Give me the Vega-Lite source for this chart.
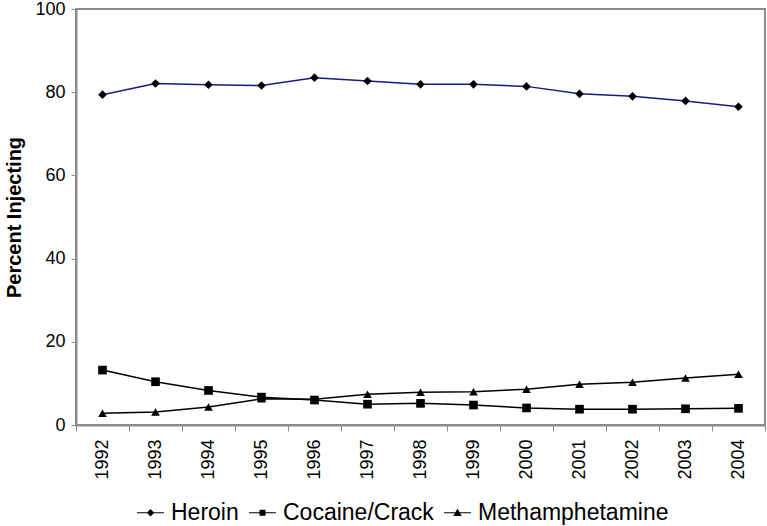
{
  "$schema": "https://vega.github.io/schema/vega-lite/v6.json",
  "autosize": {"type": "none"},
  "width": 689,
  "height": 416,
  "padding": {"left": 76, "top": 9, "right": 2, "bottom": 101},
  "background": "white",
  "config": {
    "font": "Liberation Sans",
    "view": {"stroke": "#8c8c8c", "strokeWidth": 2},
    "axis": {"grid": false, "domainColor": "#8c8c8c", "domainWidth": 2, "tickColor": "#8c8c8c", "labelColor": "black", "labelFont": "Liberation Sans", "labelFontSize": 18, "titleFont": "Liberation Sans"}
  },
  "data": {
    "values": [
      {"year": "1992", "series": "Heroin", "value": 79.4},
      {"year": "1993", "series": "Heroin", "value": 82.1},
      {"year": "1994", "series": "Heroin", "value": 81.8},
      {"year": "1995", "series": "Heroin", "value": 81.6},
      {"year": "1996", "series": "Heroin", "value": 83.5},
      {"year": "1997", "series": "Heroin", "value": 82.7},
      {"year": "1998", "series": "Heroin", "value": 81.9},
      {"year": "1999", "series": "Heroin", "value": 81.9},
      {"year": "2000", "series": "Heroin", "value": 81.4},
      {"year": "2001", "series": "Heroin", "value": 79.6},
      {"year": "2002", "series": "Heroin", "value": 79.0},
      {"year": "2003", "series": "Heroin", "value": 77.9},
      {"year": "2004", "series": "Heroin", "value": 76.5},
      {"year": "1992", "series": "Cocaine/Crack", "value": 13.2},
      {"year": "1993", "series": "Cocaine/Crack", "value": 10.4},
      {"year": "1994", "series": "Cocaine/Crack", "value": 8.3},
      {"year": "1995", "series": "Cocaine/Crack", "value": 6.7},
      {"year": "1996", "series": "Cocaine/Crack", "value": 6.0},
      {"year": "1997", "series": "Cocaine/Crack", "value": 5.0},
      {"year": "1998", "series": "Cocaine/Crack", "value": 5.2},
      {"year": "1999", "series": "Cocaine/Crack", "value": 4.8},
      {"year": "2000", "series": "Cocaine/Crack", "value": 4.1},
      {"year": "2001", "series": "Cocaine/Crack", "value": 3.8},
      {"year": "2002", "series": "Cocaine/Crack", "value": 3.8},
      {"year": "2003", "series": "Cocaine/Crack", "value": 3.9},
      {"year": "2004", "series": "Cocaine/Crack", "value": 4.0},
      {"year": "1992", "series": "Methamphetamine", "value": 2.8},
      {"year": "1993", "series": "Methamphetamine", "value": 3.1},
      {"year": "1994", "series": "Methamphetamine", "value": 4.3},
      {"year": "1995", "series": "Methamphetamine", "value": 6.3},
      {"year": "1996", "series": "Methamphetamine", "value": 6.2},
      {"year": "1997", "series": "Methamphetamine", "value": 7.4},
      {"year": "1998", "series": "Methamphetamine", "value": 7.9},
      {"year": "1999", "series": "Methamphetamine", "value": 8.0},
      {"year": "2000", "series": "Methamphetamine", "value": 8.6},
      {"year": "2001", "series": "Methamphetamine", "value": 9.8},
      {"year": "2002", "series": "Methamphetamine", "value": 10.3},
      {"year": "2003", "series": "Methamphetamine", "value": 11.3},
      {"year": "2004", "series": "Methamphetamine", "value": 12.2}
    ]
  },
  "encoding": {
    "x": {
      "field": "year", "type": "ordinal",
      "scale": {"type": "band", "paddingInner": 0, "paddingOuter": 0},
      "axis": {"title": null, "labelAngle": -90, "labelAlign": "right", "labelBaseline": "middle", "labelPadding": 8, "tickBand": "extent", "tickSize": 6, "tickWidth": 1}
    },
    "y": {
      "field": "value", "type": "quantitative",
      "scale": {"domain": [0, 100], "nice": false},
      "axis": {"title": "Percent Injecting", "titleFontSize": 20, "titleFontWeight": "bold", "titleColor": "black", "titlePadding": 10, "values": [0, 20, 40, 60, 80, 100], "tickSize": 5, "tickWidth": 1, "labelPadding": 6}
    }
  },
  "layer": [
    {
      "mark": {"type": "line", "strokeWidth": 1.5},
      "encoding": {
        "detail": {"field": "series", "type": "nominal"},
        "color": {
          "field": "series", "type": "nominal",
          "scale": {"domain": ["Heroin", "Cocaine/Crack", "Methamphetamine"], "range": ["#1a1a80", "#000000", "#000000"]},
          "legend": null
        }
      }
    },
    {
      "mark": {"type": "point", "filled": true, "opacity": 1, "color": "black", "size": 75},
      "encoding": {
        "shape": {
          "field": "series", "type": "nominal",
          "scale": {"domain": ["Heroin", "Cocaine/Crack", "Methamphetamine"], "range": ["diamond", "square", "triangle-up"]},
          "legend": null
        }
      }
    },
    {
      "transform": [{"filter": "false"}],
      "mark": {"type": "point", "filled": true, "opacity": 1, "fill": "black"},
      "encoding": {
        "shape": {
          "field": "series", "type": "nominal",
          "scale": {"domain": ["Heroin", "Cocaine/Crack", "Methamphetamine"], "range": [
            "M-2.7,-0.12L2.7,-0.12L2.7,0.12L-2.7,0.12Z M0,-0.75L0.75,0L0,0.75L-0.75,0Z",
            "M-2.7,-0.12L2.7,-0.12L2.7,0.12L-2.7,0.12Z M-0.6,-0.6L0.6,-0.6L0.6,0.6L-0.6,0.6Z",
            "M-2.7,-0.12L2.7,-0.12L2.7,0.12L-2.7,0.12Z M0,-0.85L0.85,0.65L-0.85,0.65Z"
          ]},
          "legend": {
            "title": null,
            "orient": "none",
            "direction": "horizontal",
            "legendX": 63,
            "legendY": 492,
            "symbolSize": 100,
            "symbolFillColor": "black",
            "symbolStrokeWidth": 0,
            "symbolOpacity": 1,
            "labelFont": "Liberation Sans",
            "labelFontSize": 23,
            "labelColor": "black",
            "labelOffset": 9,
            "columnPadding": 10,
            "labelLimit": 400,
            "encode": {
              "symbols": {
                "update": {
                  "fill": {"value": "black"},
                  "opacity": {"value": 1}
                }
              }
            }
          }
        }
      }
    }
  ],
  "resolve": {"scale": {"shape": "independent", "color": "independent"}, "legend": {"shape": "independent"}}
}
